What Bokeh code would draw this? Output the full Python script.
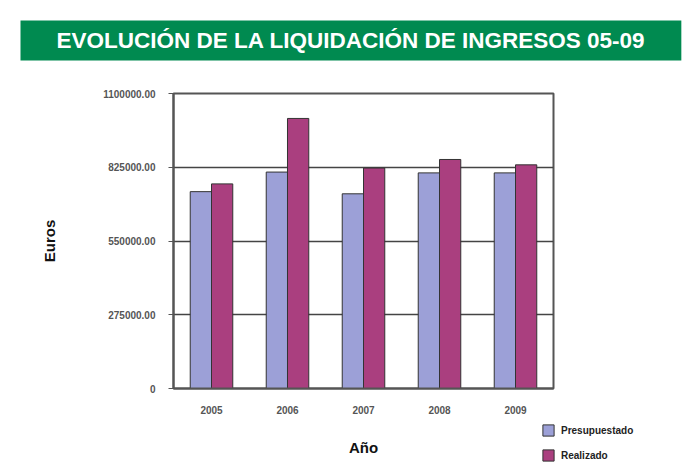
from bokeh.plotting import figure
from bokeh.models import (ColumnDataSource, FactorRange, Legend, LegendItem, FixedTicker, Title)
from bokeh.transform import dodge
from bokeh.embed import file_html
from bokeh.resources import INLINE

years = ["2005", "2006", "2007", "2008", "2009"]
presupuestado = [734000, 807000, 726000, 804000, 804000]
realizado = [763000, 1007000, 822000, 854000, 834000]
y_ticks = [0, 275000, 550000, 825000, 1100000]
y_tick_labels = ["0", "275000.00", "550000.00", "825000.00", "1100000.00"]

title_text = "EVOLUCIÓN DE LA LIQUIDACIÓN DE INGRESOS 05-09"

src = ColumnDataSource(dict(year=years, pres=presupuestado, real=realizado))

p = figure(frame_width=380, frame_height=295, x_range=FactorRange(*years), y_range=(0, 1100000),
           title=None, output_backend="svg", toolbar_location=None,
           min_border_left=173, min_border_right=144, min_border_top=93, min_border_bottom=80)
p.background_fill_color = "white"
p.border_fill_color = "white"
p.outline_line_color = "#555555"
p.outline_line_width = 2

# spacer between the frame and the banner (nearest the frame)
p.add_layout(Title(text=" ", standoff=15, text_font_size="14px"), "above")
# green banner title
p.add_layout(Title(text=title_text, align="left", offset=-153, standoff=0,
                   text_color="white", text_font="Liberation Sans", text_font_style="bold",
                   text_font_size="22.5px", background_fill_color="#008a50",
                   padding=dict(left=36, right=36, top=7, bottom=8)), "above")

r1 = p.vbar(x=dodge("year", -0.14, range=p.x_range), top="pres", width=0.28, source=src,
            fill_color="#9ca0d7", line_color="#333333", line_width=1)
r2 = p.vbar(x=dodge("year", 0.14, range=p.x_range), top="real", width=0.28, source=src,
            fill_color="#aa3f7f", line_color="#333333", line_width=1)

p.x_range.range_padding = 0
p.yaxis.ticker = FixedTicker(ticks=y_ticks)
p.yaxis.major_label_overrides = {t: l for t, l in zip(y_ticks, y_tick_labels)}
p.xgrid.grid_line_color = None
p.ygrid.grid_line_color = "#444444"
p.ygrid.grid_line_width = 1.5

for ax in (p.xaxis, p.yaxis):
    ax.axis_line_color = "#555555"
    ax.axis_line_width = 2
    ax.major_label_text_font = "Liberation Sans"
    ax.major_label_text_font_size = "10px"
    ax.major_label_text_font_style = "bold"
    ax.major_label_text_color = "#555555"
    ax.minor_tick_line_color = None
    ax.axis_label_text_font = "Liberation Sans"
    ax.axis_label_text_font_style = "bold"
    ax.axis_label_text_color = "#111111"

p.yaxis.major_tick_line_color = "#555555"
p.yaxis.major_tick_out = 5
p.yaxis.major_tick_in = 0
p.yaxis.major_label_standoff = 13
p.yaxis.axis_label = "Euros"
p.yaxis.axis_label_text_font_size = "15px"
p.yaxis.axis_label_standoff = 42

p.xaxis.major_tick_line_color = None
p.xaxis.major_label_standoff = 11
p.xaxis.axis_label = "Año"
p.xaxis.axis_label_text_font_size = "15px"
p.xaxis.axis_label_standoff = 22

legend = Legend(items=[LegendItem(label="Presupuestado", renderers=[r1]),
                       LegendItem(label="Realizado", renderers=[r2])],
                location=(-12, -74), orientation="vertical",
                glyph_width=14, glyph_height=14, label_height=14, spacing=11,
                label_text_font="Liberation Sans", label_text_font_style="bold",
                label_text_font_size="10px", label_text_color="#222222",
                border_line_color=None, background_fill_alpha=0, padding=0, margin=0,
                label_standoff=6)
p.add_layout(legend, "right")

open("out.html", "w").write(file_html(p, INLINE))
